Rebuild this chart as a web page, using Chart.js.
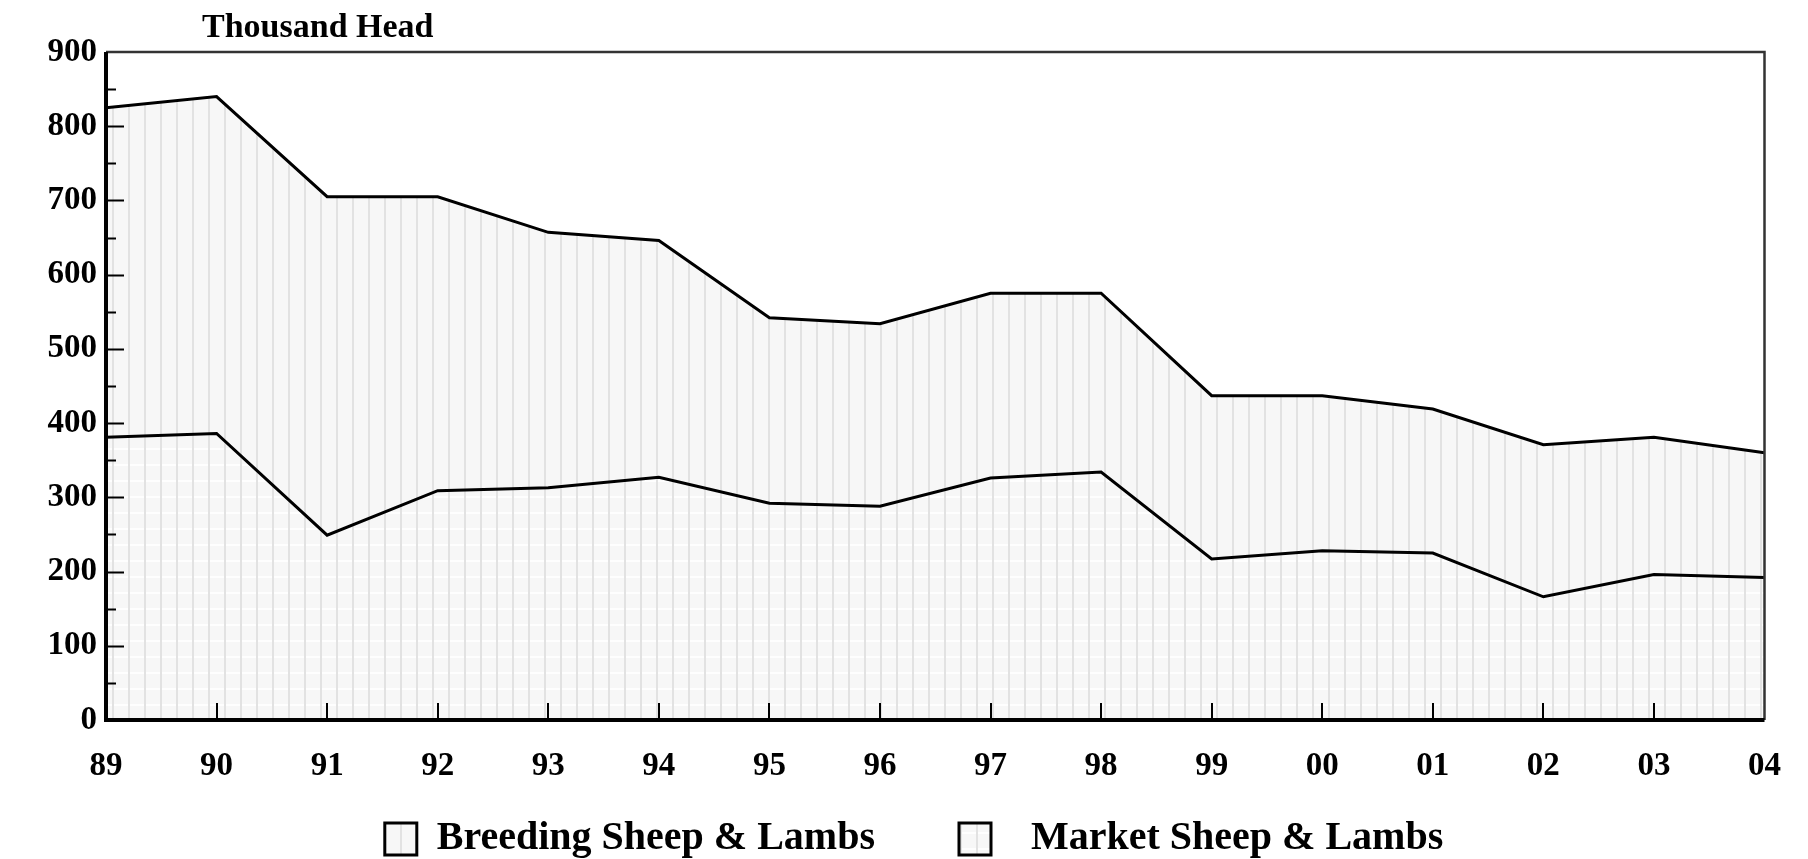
<!DOCTYPE html>
<html>
<head>
<meta charset="utf-8">
<title>Sheep & Lambs Inventory</title>
<script src="https://cdn.jsdelivr.net/npm/chart.js@4/dist/chart.umd.min.js"></script>
<style>
  html, body { margin: 0; padding: 0; background: #fff; }
  canvas { display: block; }
</style>
</head>
<body>
<canvas id="sheepChart" width="1808" height="859"></canvas>
<script>
// Data (thousand head)
const years = ['89', '90', '91', '92', '93', '94', '95', '96', '97', '98', '99', '00', '01', '02', '03', '04'];
const marketSheep = [381, 386, 249, 309, 313, 327, 292, 288, 326, 334, 217, 228, 225, 166, 196, 192];
const breedingSheep = [444, 454, 456, 396, 344, 319, 250, 246, 249, 241, 220, 209, 194, 205, 185, 168];
const yTicks = [0, 100, 200, 300, 400, 500, 600, 700, 800, 900];

const serif = '"Liberation Serif", "Times New Roman", serif';

// light hatch fills like the printed chart
function makePattern(withRows) {
    const c = document.createElement('canvas');
    c.width = 16;
    c.height = 16;
    const g = c.getContext('2d');
    g.fillStyle = '#f7f7f7';
    g.fillRect(0, 0, 16, 16);
    if (withRows) {
        g.fillStyle = '#fefefe';
        g.fillRect(0, 0, 16, 2);
    }
    g.fillStyle = '#e2e2e2';
    g.fillRect(0, 0, 2, 16);
    return g.createPattern(c, 'repeat');
}

// frame, inside ticks and the unit label
const framePlugin = {
    id: 'frame',
    afterDatasetsDraw(chart) {
        const {ctx, chartArea: a, scales: {x, y}} = chart;
        ctx.save();
        ctx.strokeStyle = '#000';
        ctx.lineWidth = 2;
        for (let v = 50; v < 900; v += 50) {
            const py = Math.round(y.getPixelForValue(v)) + 0.5;
            const len = v % 100 === 0 ? 18 : 10;
            ctx.beginPath();
            ctx.moveTo(a.left, py);
            ctx.lineTo(a.left + len, py);
            ctx.stroke();
        }
        years.forEach((yr, i) => {
            if (i === 0 || i === years.length - 1) return;
            const px = Math.round(x.getPixelForValue(i));
            ctx.beginPath();
            ctx.moveTo(px, a.bottom);
            ctx.lineTo(px, a.bottom - 17);
            ctx.stroke();
        });
        // top and right border
        ctx.strokeStyle = '#333';
        ctx.lineWidth = 2.5;
        ctx.beginPath();
        ctx.moveTo(a.left, a.top);
        ctx.lineTo(a.right, a.top);
        ctx.lineTo(a.right, a.bottom);
        ctx.stroke();
        // heavy left and bottom axis
        ctx.strokeStyle = '#000';
        ctx.lineWidth = 4;
        ctx.beginPath();
        ctx.moveTo(a.left, a.top);
        ctx.lineTo(a.left, a.bottom);
        ctx.lineTo(a.right, a.bottom);
        ctx.stroke();

        ctx.fillStyle = '#000';
        ctx.font = 'bold 34px ' + serif;
        ctx.textBaseline = 'alphabetic';
        ctx.fillText('Thousand Head', 202, 37);
        ctx.restore();
    }
};

const ctx = document.getElementById('sheepChart').getContext('2d');

new Chart(ctx, {
    type: 'line',
    data: {
        labels: years,
        datasets: [{
            label: 'Market Sheep & Lambs',
            data: marketSheep,
            borderColor: '#000',
            borderWidth: 3,
            backgroundColor: makePattern(true),
            fill: 'origin',
            pointRadius: 0,
            tension: 0
        }, {
            label: 'Breeding Sheep & Lambs',
            data: breedingSheep,
            borderColor: '#000',
            borderWidth: 3,
            backgroundColor: makePattern(false),
            fill: '-1',
            pointRadius: 0,
            tension: 0
        }]
    },
    options: {
        responsive: false,
        animation: false,
        layout: {
            autoPadding: false,
            padding: { top: 52, right: 20, bottom: -10, left: 40 }
        },
        plugins: {
            tooltip: { enabled: false },
            legend: {
                position: 'bottom',
                reverse: true,
                labels: {
                    boxWidth: 32,
                    boxHeight: 32,
                    padding: 24,
                    color: '#000',
                    font: { family: serif, size: 40, weight: 'bold' },
                    generateLabels: function(chart) {
                        const items = Chart.defaults.plugins.legend.labels.generateLabels(chart);
                        // spacing of the original legend
                        items.forEach(item => {
                            if (item.text.startsWith('Breeding')) item.text += '\u2003\u2002';
                            else item.text = '\u2002' + item.text;
                        });
                        return items;
                    }
                }
            }
        },
        scales: {
            x: {
                offset: false,
                grid: { display: false, drawTicks: false },
                border: { display: false },
                ticks: {
                    color: '#000',
                    padding: 27,
                    maxRotation: 0,
                    autoSkip: false,
                    font: { family: serif, size: 33, weight: 'bold' }
                },
                afterFit: function(scale) { scale.height = 75; }
            },
            y: {
                stacked: true,
                min: 0,
                max: 900,
                grid: { display: false, drawTicks: false },
                border: { display: false },
                afterBuildTicks: function(scale) {
                    scale.ticks = yTicks.map(v => ({ value: v }));
                },
                ticks: {
                    color: '#000',
                    padding: 9,
                    font: { family: serif, size: 33, weight: 'bold' }
                },
                afterFit: function(scale) { scale.width = 66; }
            }
        }
    },
    plugins: [framePlugin]
});
</script>
</body>
</html>
